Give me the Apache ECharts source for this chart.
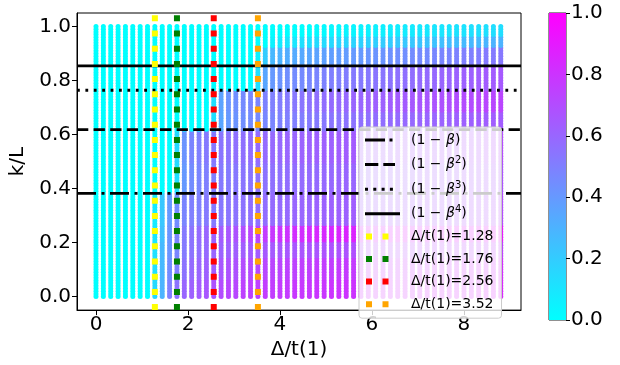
<!DOCTYPE html>
<html><head><meta charset="utf-8">
<script src="https://cdn.jsdelivr.net/npm/echarts@6/dist/echarts.min.js"></script>
<style>html,body{margin:0;padding:0;background:#fff}#c{width:620px;height:365px}</style>
</head><body><div id="c"></div>
<script>
// Δ/t(1) columns
const xCols = [0,0.16,0.32,0.48,0.64,0.8,0.96,1.12,1.28,1.44,1.6,1.76,1.92,2.08,2.24,2.4,2.56,2.72,2.88,3.04,3.2,3.36,3.52,3.68,3.84,4,4.16,4.32,4.48,4.64,4.8,4.96,5.12,5.28,5.44,5.6,5.76,5.92,6.08,6.24,6.4,6.56,6.72,6.88,7.04,7.2,7.36,7.52,7.68,7.84,8,8.16,8.32,8.48,8.64,8.8];
const L = 100; // states per column, k = 0..L
// upper k/L bound of each colour band
const rowTops = [0.07,0.146,0.21,0.27,0.382,0.5,0.618,0.69,0.764,0.854,0.93,0.965,1.001];
// colour value (0..1) per band, per column
const r0 = [0,0,0,0,0,0,0,0, 0.15,0.3,0.5,0.55,0.6,0.62,0.64,0.66, 0.68,0.7,0.72,0.72,0.74,0.74,0.75,0.76, 0.76,0.77,0.77,0.78,0.78,0.78,0.79,0.79, 0.8,0.8,0.8,0.8,0.81,0.81,0.81,0.81, 0.82,0.82,0.82,0.82,0.83,0.83,0.83,0.83, 0.84,0.84,0.84,0.84,0.85,0.85,0.85,0.85];
const r1 = [0,0,0,0,0,0,0,0, 0.12,0.28,0.45,0.5,0.55,0.58,0.6,0.62, 0.64,0.66,0.68,0.68,0.7,0.7,0.72,0.72, 0.73,0.73,0.74,0.74,0.75,0.75,0.76,0.76, 0.76,0.77,0.77,0.77,0.78,0.78,0.78,0.78, 0.79,0.79,0.79,0.79,0.8,0.8,0.8,0.8, 0.8,0.81,0.81,0.81,0.81,0.82,0.82,0.82];
const r2 = [0,0,0,0,0,0,0,0, 0.12,0.28,0.42,0.48,0.52,0.55,0.57,0.59, 0.6,0.61,0.62,0.63,0.63,0.64,0.64,0.65, 0.65,0.66,0.66,0.66,0.67,0.67,0.67,0.68, 0.68,0.68,0.68,0.69,0.69,0.69,0.7,0.7, 0.7,0.7,0.71,0.71,0.71,0.71,0.72,0.72, 0.72,0.72,0.73,0.73,0.73,0.73,0.74,0.74];
const r3 = [0,0,0,0,0,0,0,0, 0.1,0.25,0.42,0.48,0.52,0.55,0.58,0.6, 0.62,0.64,0.66,0.68,0.7,0.72,0.74,0.76, 0.78,0.8,0.8,0.82,0.82,0.83,0.84,0.84, 0.85,0.85,0.85,0.86,0.86,0.86,0.86,0.87, 0.87,0.87,0.87,0.88,0.88,0.88,0.88,0.88, 0.89,0.89,0.89,0.89,0.9,0.9,0.9,0.9];
const r4 = [0,0,0,0,0,0,0,0, 0.08,0.22,0.4,0.45,0.48,0.5,0.5,0.52, 0.52,0.53,0.54,0.55,0.55,0.56,0.56,0.57, 0.58,0.58,0.59,0.6,0.6,0.6,0.61,0.61, 0.62,0.62,0.62,0.63,0.63,0.63,0.64,0.64, 0.64,0.65,0.65,0.65,0.66,0.66,0.66,0.67, 0.67,0.67,0.68,0.68,0.68,0.69,0.69,0.7];
const r5 = [0,0,0,0,0,0,0,0,0,0,0, 0.12,0.4,0.45,0.48,0.5, 0.5,0.52,0.52,0.53,0.54,0.54,0.55,0.55, 0.56,0.56,0.57,0.57,0.58,0.58,0.58,0.59, 0.59,0.6,0.6,0.6,0.61,0.61,0.62,0.62, 0.62,0.63,0.63,0.63,0.64,0.64,0.64,0.65, 0.65,0.65,0.66,0.66,0.66,0.67,0.67,0.67];
const r6 = [0,0,0,0,0,0,0,0,0,0,0, 0.15,0.42,0.48,0.5,0.52, 0.53,0.54,0.55,0.56,0.56,0.57,0.58,0.58, 0.59,0.59,0.6,0.6,0.61,0.61,0.62,0.62, 0.62,0.63,0.63,0.64,0.64,0.64,0.65,0.65, 0.65,0.66,0.66,0.66,0.67,0.67,0.67,0.68, 0.68,0.68,0.69,0.69,0.69,0.7,0.7,0.7];
const r7 = [0,0,0,0,0,0,0,0,0,0,0,0,0,0,0,0, 0.12,0.35,0.4,0.42,0.44,0.45,0.46,0.47, 0.48,0.49,0.5,0.5,0.51,0.52,0.52,0.53, 0.54,0.54,0.55,0.55,0.56,0.56,0.57,0.57, 0.58,0.58,0.59,0.59,0.6,0.6,0.6,0.61, 0.61,0.62,0.62,0.62,0.63,0.63,0.63,0.64];
const r8 = [0,0,0,0,0,0,0,0,0,0,0,0,0,0,0,0, 0.12,0.36,0.42,0.44,0.46,0.47,0.48,0.49, 0.5,0.51,0.52,0.53,0.54,0.55,0.56,0.57, 0.58,0.58,0.59,0.6,0.6,0.61,0.62,0.62, 0.63,0.64,0.64,0.65,0.66,0.66,0.67,0.68, 0.68,0.69,0.7,0.7,0.71,0.72,0.72,0.73];
const r9 = [0,0,0,0,0,0,0,0,0,0,0,0,0,0,0,0,0,0,0,0,0,0, 0.12,0.35,0.4,0.42,0.44,0.45,0.46,0.47, 0.48,0.49,0.5,0.5,0.51,0.52,0.52,0.53, 0.54,0.54,0.55,0.56,0.56,0.57,0.58,0.58, 0.59,0.6,0.6,0.61,0.62,0.62,0.63,0.64, 0.64,0.65];
const r10 = [0,0,0,0,0,0,0,0,0,0,0,0,0,0,0,0,0,0,0,0,0,0, 0.05,0.2,0.28,0.3,0.32,0.33,0.34,0.35, 0.36,0.37,0.38,0.38,0.39,0.4,0.4,0.41, 0.42,0.42,0.43,0.44,0.44,0.45,0.46,0.46, 0.47,0.48,0.48,0.49,0.5,0.5,0.51,0.52, 0.52,0.53];
const r11 = [0,0,0,0,0,0,0,0,0,0,0,0,0,0,0,0,0,0,0,0,0,0,0,0, 0.05,0.08,0.1,0.1,0.12,0.12,0.14,0.14, 0.15,0.16,0.16,0.17,0.18,0.18,0.19,0.2, 0.2,0.21,0.22,0.22,0.23,0.24,0.24,0.25, 0.26,0.26,0.27,0.28,0.28,0.29,0.3,0.3];
const r12 = [0,0,0,0,0,0,0,0,0,0,0,0,0,0,0,0,0,0,0,0,0,0,0,0,0,0,0,0,0,0, 0.02,0.02,0.03,0.03,0.04,0.04,0.05,0.05, 0.06,0.06,0.07,0.07,0.08,0.08,0.09,0.09, 0.1,0.1,0.1,0.11,0.11,0.12,0.12,0.12, 0.13,0.13];
const rows = [r0,r1,r2,r3,r4,r5,r6,r7,r8,r9,r10,r11,r12];

// reference lines
const hLineY = [0.382, 0.618, 0.764, 0.854];           // (1-β), (1-β²), (1-β³), (1-β⁴)
const hLineNames = ['b1','b2','b3','b4'];
const deltaX = [1.28, 1.76, 2.56, 3.52];
const deltaNames = ['d1','d2','d3','d4'];
const deltaColors = ['#ffff00','#008000','#ff0000','#ffa500'];
const xTicks = [0,2,4,6,8];
const yTicks = [0,0.2,0.4,0.6,0.8,1.0];
const cbTicks = [0,0.2,0.4,0.6,0.8,1.0];
const xMin = -0.413, xMax = 9.24, yMin = -0.05, yMax = 1.05;

const FONT = 'DejaVu Sans';
const pts = [];
xCols.forEach((x, i) => {
  for (let k = 0; k <= L; k++) {
    const y = k / L;
    let r = 0;
    while (r < rowTops.length - 1 && y >= rowTops[r]) r++;
    pts.push([x, y, rows[r][i]]);
  }
});

const dashStyles = [[19,5.5,3,5.5],[11.3,5.3],[2.8,5.6],'solid'];
const series = [{
  type: 'scatter', data: pts, symbolSize: 5, xAxisIndex: 0, yAxisIndex: 0,
  z: 1, silent: true, progressive: 0, large: false, itemStyle: {opacity: 1}
}];
hLineY.forEach((y, j) => series.push({
  type: 'line', name: hLineNames[j], data: [[xMin, y], [xMax, y]], symbol: 'none',
  xAxisIndex: 0, yAxisIndex: 0, z: 3, silent: true,
  lineStyle: {color: '#000', width: 2.8, type: dashStyles[j]}, itemStyle: {color: '#000'}
}));
deltaX.forEach((x, j) => series.push({
  type: 'line', name: deltaNames[j], data: [[x, yMin], [x, yMax]], symbol: 'none',
  xAxisIndex: 0, yAxisIndex: 0, z: 4, silent: true,
  lineStyle: {color: deltaColors[j], width: 6, type: [6, 9.2], cap: 'butt'},
  itemStyle: {color: deltaColors[j]}
}));
series.push({
  type: 'bar', xAxisIndex: 1, yAxisIndex: 1, data: [1], barWidth: '100%', silent: true,
  itemStyle: {color: {type: 'linear', x: 0, y: 1, x2: 0, y2: 0,
    colorStops: [{offset: 0, color: '#00ffff'}, {offset: 1, color: '#ff00ff'}]}}
});

const legendLabels = {
  b1: '(1 − {it|β})', b2: '(1 − {it|β}{sup|2})', b3: '(1 − {it|β}{sup|3})', b4: '(1 − {it|β}{sup|4})',
  d1: 'Δ/t(1)=1.28', d2: 'Δ/t(1)=1.76', d3: 'Δ/t(1)=2.56', d4: 'Δ/t(1)=3.52'
};
// legend handle glyphs (box 35 x 14)
const box = 'M0,0h0.01v0.01h-0.01zM34.99,13.99h0.01v0.01h-0.01z';
const lineIcons = [
  'path://' + box + 'M0,5.5h20v3h-20zM24.5,5.5h3v3h-3z',
  'path://' + box + 'M0,5.5h13.3v3h-13.3zM18.3,5.5h11.7v3h-11.7z',
  'path://' + box + 'M0,5.5h3v3h-3zM8.3,5.5h3v3h-3zM16.6,5.5h3v3h-3zM24.9,5.5h3v3h-3z',
  'path://' + box + 'M0,5.5h35v3h-35z'
];
const sqIcon = 'path://' + box + 'M1,4h6v6h-6zM17.5,4h6v6h-6z';
const legendData = hLineNames.map((n, j) => ({name: n, icon: lineIcons[j], itemStyle: {color: '#000', borderWidth: 0}})).concat(
  deltaNames.map((n, j) => ({name: n, icon: sqIcon, itemStyle: {color: deltaColors[j], borderWidth: 0}})));

const chart = echarts.init(document.getElementById('c'));
chart.setOption({
  animation: false,
  textStyle: {fontFamily: FONT},
  grid: [
    {left: 77, right: 99, top: 13, bottom: 45, show: true, borderColor: '#000', borderWidth: 1},
    {left: 549, width: 17, top: 13, bottom: 45, show: true, borderColor: '#222', borderWidth: 1}
  ],
  xAxis: [{
    type: 'value', gridIndex: 0, min: xMin, max: xMax,
    name: 'Δ/t(1)', nameLocation: 'middle', nameGap: 29,
    nameTextStyle: {fontSize: 20, color: '#000', fontFamily: FONT},
    axisLine: {show: true, onZero: false, lineStyle: {color: '#000', width: 1}},
    axisTick: {show: true, length: 5, lineStyle: {color: '#000'}, customValues: xTicks},
    axisLabel: {fontSize: 20, color: '#000', margin: 5, fontFamily: FONT, customValues: xTicks, formatter: v => String(v)},
    splitLine: {show: false}
  }, {
    type: 'category', gridIndex: 1, data: ['c'], show: false
  }],
  yAxis: [{
    type: 'value', gridIndex: 0, min: yMin, max: yMax,
    name: 'k/L', nameLocation: 'middle', nameGap: 37,
    nameTextStyle: {fontSize: 20, color: '#000', fontFamily: FONT},
    axisLine: {show: true, onZero: false, lineStyle: {color: '#000', width: 1}},
    axisTick: {show: true, length: 5, lineStyle: {color: '#000'}, customValues: yTicks},
    axisLabel: {fontSize: 20, color: '#000', margin: 6, fontFamily: FONT, customValues: yTicks, formatter: v => v.toFixed(1)},
    splitLine: {show: false}
  }, {
    type: 'value', gridIndex: 1, position: 'right', min: 0, max: 1,
    axisLine: {show: false},
    axisTick: {show: true, length: 4, lineStyle: {color: '#000'}, customValues: cbTicks},
    axisLabel: {fontSize: 20, color: '#000', margin: 5, fontFamily: FONT, customValues: cbTicks, formatter: v => v.toFixed(1)},
    splitLine: {show: false}
  }],
  visualMap: [{
    type: 'continuous', show: false, seriesIndex: 0, dimension: 2, min: 0, max: 1,
    inRange: {color: ['#00ffff', '#ff00ff']}
  }],
  legend: {
    left: 359, top: 127, orient: 'vertical', itemWidth: 35, itemHeight: 14, itemGap: 8.6,
    padding: [6, 8, 7, 6], backgroundColor: 'rgba(255,255,255,0.8)',
    borderColor: '#cccccc', borderWidth: 1, borderRadius: 3, selectedMode: false, z: 10,
    data: legendData,
    formatter: n => legendLabels[n],
    textStyle: {fontSize: 14, color: '#000', fontFamily: FONT, padding: [0, 0, 0, 6],
      rich: {
        it: {fontSize: 14, fontStyle: 'italic', fontFamily: FONT, color: '#000'},
        sup: {fontSize: 10, fontFamily: FONT, color: '#000', padding: [0, 0, 8, 0]}
      }}
  },
  series: series
});
</script></body></html>
